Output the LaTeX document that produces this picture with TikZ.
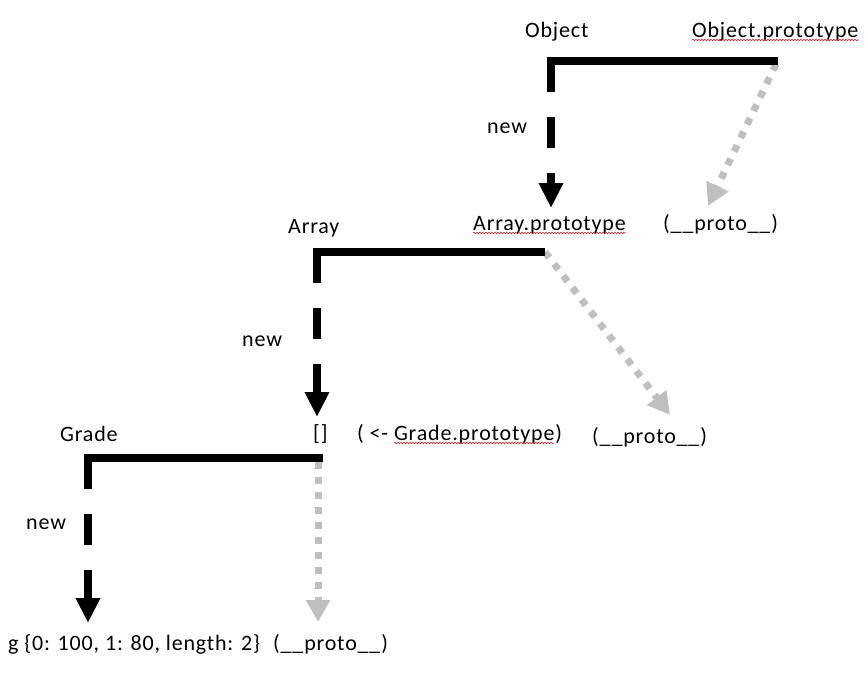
\documentclass[tikz,border=0pt]{standalone}
\usepackage{fontspec}
\setmainfont{Carlito}[LetterSpace=3.8]
\usetikzlibrary{arrows.meta,decorations.pathmorphing}
\definecolor{protogray}{RGB}{191,191,191}
\definecolor{squigred}{RGB}{220,30,30}
\begin{document}
\begin{tikzpicture}[x=1pt,y=-1pt,
  lbl/.style={anchor=base west,inner sep=0pt,font=\fontsize{22}{26}\selectfont},
  bar/.style={line width=8pt,line cap=butt},
  newarrow/.style={line width=8pt,line cap=butt,dash pattern=on 31pt off 25pt,-{Triangle[width=23pt,length=25pt]}},
  protoarrow/.style={line width=7pt,line cap=butt,draw=protogray,dash pattern=on 7pt off 8pt,-{Triangle[width=23pt,length=22pt,fill=protogray]}},
  squig/.style={draw=squigred,line width=0.6pt,decorate,decoration={snake,amplitude=0.8pt,segment length=3pt}}]
\useasboundingbox (0,0) rectangle (866,672);

% labels
\node[lbl] (O)   at (525,37) {Object};
\node[lbl] (OP)  at (692,37) {Object.prototype};
\node[lbl] (n1)  at (487,133) {new};
\node[lbl] (AP)  at (473,230) {Array.prototype};
\node[lbl] (p1)  at (663,230) {(\_\_proto\_\_)};
\node[lbl] (A)   at (288,233) {Array};
\node[lbl] (n2)  at (242,346) {new};
\node[lbl] (E)   at (313,440) {[]};
\node[lbl] (GP)  at (357,440) {( <- Grade.prototype)};
\node[lbl] (p2)  at (592,443) {(\_\_proto\_\_)};
\node[lbl] (G)   at (60,441) {Grade};
\node[lbl] (n3)  at (26,529) {new};
\node[lbl] (g)   at (8,650) {g \{0: 100, 1: 80, length: 2\}};
\node[lbl] (p3)  at (273,650) {(\_\_proto\_\_)};

% spell-check squiggles
\draw[squig] ([yshift=-3pt]OP.base west) -- ([yshift=-3pt]OP.base east);
\draw[squig] ([yshift=-3pt]AP.base west) -- ([yshift=-3pt]AP.base east);
\draw[squig] ([xshift=37pt,yshift=-3pt]GP.base west) -- ([xshift=-8pt,yshift=-3pt]GP.base east);

% coordinates
\coordinate (oL) at (547,61);  \coordinate (oR) at (778,61);
\coordinate (oC) at (551,61);  \coordinate (oT) at (551,208);
\coordinate (aL) at (313,252); \coordinate (aR) at (545,252);
\coordinate (aC) at (317,252); \coordinate (aT) at (317,417);
\coordinate (gL) at (84,458);  \coordinate (gR) at (323,458);
\coordinate (gC) at (88,458);  \coordinate (gT) at (88,623);

\coordinate (d1s) at (776,64);  \coordinate (d1t) at (708,206);
\coordinate (d2s) at (545,252); \coordinate (d2t) at (670,415);
\coordinate (d3s) at (318,462); \coordinate (d3t) at (318,622);

% proto links (gray)
\draw[protoarrow] (d1s) -- (d1t);
\draw[protoarrow] (d2s) -- (d2t);
\draw[protoarrow] (d3s) -- (d3t);

% brackets and new arrows
\draw[bar] (oL) -- (oR);
\draw[newarrow] (oC) -- (oT);
\draw[bar] (aL) -- (aR);
\draw[newarrow] (aC) -- (aT);
\draw[bar] (gL) -- (gR);
\draw[newarrow] (gC) -- (gT);
\end{tikzpicture}
\end{document}
